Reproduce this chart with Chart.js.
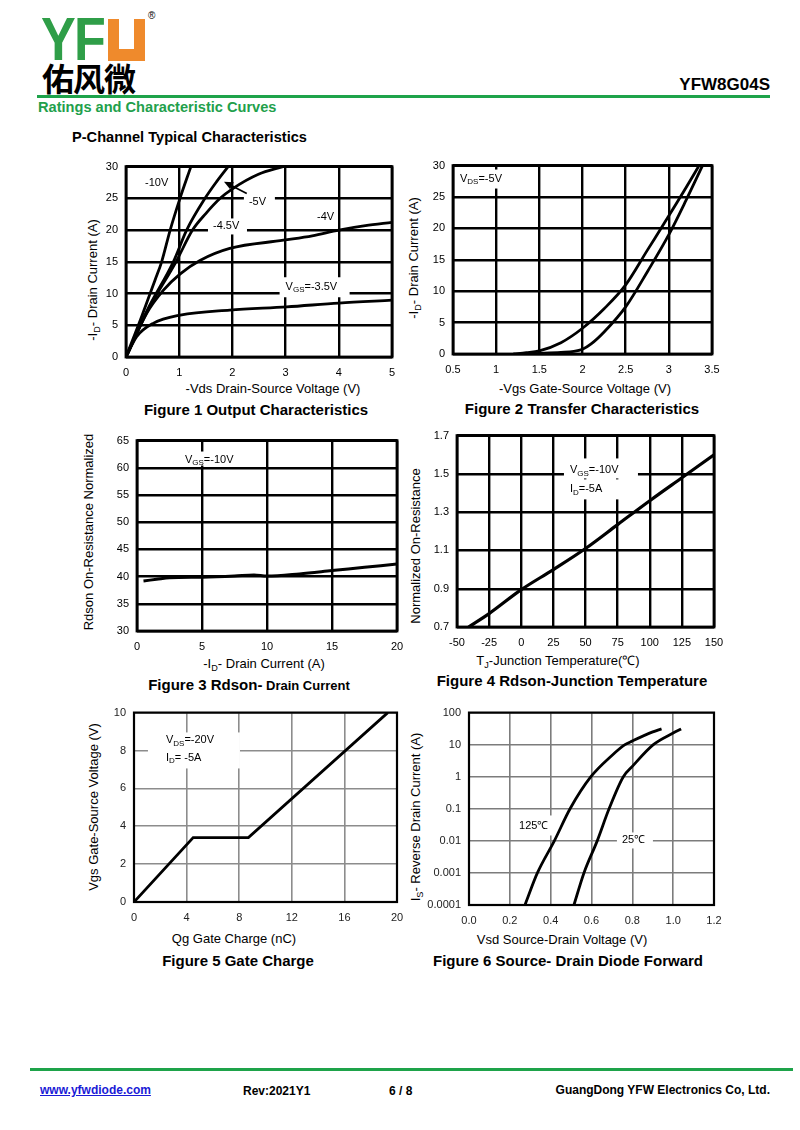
<!DOCTYPE html>
<html>
<head>
<meta charset="utf-8">
<script src="https://cdn.jsdelivr.net/npm/chart.js@4.4.1/dist/chart.umd.min.js"></script>
<style>
  body { margin: 0; background: #fff; font-family: "Liberation Sans", Arial, sans-serif; }
  #page { position: relative; width: 800px; height: 1130px; overflow: hidden; }
  .t { position: absolute; white-space: nowrap; color: #000; line-height: 1; }
  .c { transform: translate(-50%, -50%); }
  .l { transform: translateY(-50%); }
  .r { transform: translate(-100%, -50%); }
  .rot { transform: translate(-50%, -50%) rotate(-90deg); }
  .ax { font-size: 13px; }
  .cap { font-size: 15px; font-weight: bold; }
  sub { font-size: 70%; vertical-align: -3px; line-height: 0; }
  .hr { position: absolute; height: 3px; background: #1ea34a; }
  canvas { position: absolute; }
</style>
</head>
<body>
<div id="page">
  <!-- logo -->
  <div class="t" style="left:41px;top:8px;font-size:62px;font-weight:bold;color:#2f9e48;transform:scaleX(0.84);transform-origin:0 0;letter-spacing:-2px;">YF</div>
  <div style="position:absolute;left:108px;top:19px;width:37px;height:42px;background:#ef8a2c;">
    <div style="position:absolute;left:11px;top:0;width:15px;height:30px;background:#fff;"></div>
  </div>
  <div class="t" style="left:148px;top:11px;font-size:10px;">&reg;</div>
  <div class="t" style="left:42px;top:61px;font-size:32px;font-weight:bold;font-family:'Noto Sans CJK SC';letter-spacing:-1px;">佑风微</div>

  <div class="t r" style="left:770px;top:84px;font-size:17px;font-weight:bold;">YFW8G04S</div>
  <div class="hr" style="left:37px;top:95px;width:733px;"></div>
  <div class="t l" style="left:38px;top:107px;font-size:14.6px;font-weight:bold;color:#22a04b;">Ratings and Characteristic Curves</div>
  <div class="t l" style="left:72px;top:137px;font-size:14.6px;font-weight:bold;">P-Channel Typical Characteristics</div>

  <!-- axis titles and captions -->
  <div class="t c ax" style="left:273px;top:388px;">-Vds Drain-Source Voltage (V)</div>
  <div class="t rot ax" style="left:92px;top:280px;">-I<sub>D</sub>- Drain Current (A)</div>
  <div class="t c cap" style="left:256px;top:409px;">Figure 1 Output Characteristics</div>

  <div class="t c ax" style="left:585px;top:388px;">-Vgs Gate-Source Voltage (V)</div>
  <div class="t rot ax" style="left:413px;top:258px;">-I<sub>D</sub>- Drain Current (A)</div>
  <div class="t c cap" style="left:582px;top:408px;">Figure 2 Transfer Characteristics</div>

  <div class="t c ax" style="left:264px;top:663px;">-I<sub>D</sub>- Drain Current (A)</div>
  <div class="t rot ax" style="left:88px;top:532px;">Rdson On-Resistance Normalized</div>
  <div class="t c cap" style="left:249px;top:684px;">Figure 3 Rdson-<span style="font-size:13px;"> Drain Current</span></div>

  <div class="t c ax" style="left:558px;top:660px;">T<sub>J</sub>-Junction Temperature(℃)</div>
  <div class="t rot ax" style="left:415px;top:546px;">Normalized On-Resistance</div>
  <div class="t c cap" style="left:572px;top:680px;">Figure 4 Rdson-Junction Temperature</div>

  <div class="t c ax" style="left:234px;top:938px;">Qg Gate Charge (nC)</div>
  <div class="t rot ax" style="left:93px;top:807px;">Vgs Gate-Source Voltage (V)</div>
  <div class="t c cap" style="left:238px;top:960px;">Figure 5 Gate Charge</div>

  <div class="t c ax" style="left:562px;top:939px;">Vsd Source-Drain Voltage (V)</div>
  <div class="t rot ax" style="left:415px;top:817px;">I<sub>S</sub>- Reverse Drain Current (A)</div>
  <div class="t c cap" style="left:568px;top:960px;">Figure 6 Source- Drain Diode Forward</div>

  <!-- footer -->
  <div class="hr" style="left:30px;top:1068px;width:763px;"></div>
  <div class="t l" style="left:40px;top:1090px;font-size:12px;font-weight:bold;color:#1a1ad6;text-decoration:underline;">www.yfwdiode.com</div>
  <div class="t l" style="left:243px;top:1091px;font-size:12px;font-weight:bold;">Rev:2021Y1</div>
  <div class="t l" style="left:389px;top:1091px;font-size:12px;font-weight:bold;">6 / 8</div>
  <div class="t r" style="left:770px;top:1090px;font-size:12px;font-weight:bold;">GuangDong YFW Electronics Co, Ltd.</div>
</div>

<script>
const fontFamily = '"Liberation Sans", Arial, sans-serif';

// Figure 1 - output characteristics (-Vds V / -Id A)
const f1Vds10 = [0, 0.3, 0.545, 0.67, 0.83, 1.015, 1.22];
const f1Id10 = [0, 6.5, 12.1, 15, 20, 25, 30];
const f1Vds5 = [0, 0.4, 0.89, 1.14, 1.485, 1.7, 1.92];
const f1Id5 = [0, 7.4, 15, 20, 25, 27.6, 30];
const f1Vds45 = [0, 0.4, 0.94, 1.25, 1.5, 1.77, 2.0, 2.49, 2.95];
const f1Id45 = [0, 7.2, 15, 20, 22.6, 25, 26.5, 28.8, 30];
const f1Vds4 = [0, 0.39, 0.7, 1.02, 1.39, 1.95, 2.96, 3.5, 4, 4.5, 5];
const f1Id4 = [0, 6.9, 10.5, 13.1, 15.2, 17.1, 18.4, 19.1, 20, 20.7, 21.2];
const f1Vds35 = [0, 0.2, 0.51, 1.02, 1.95, 3.02, 4, 5];
const f1Id35 = [0, 3.2, 5.3, 6.6, 7.4, 7.9, 8.5, 8.95];
const f1XTicks = [0, 1, 2, 3, 4, 5];
const f1YTicks = [0, 5, 10, 15, 20, 25, 30];

// Figure 2 - transfer characteristics (-Vgs V / -Id A)
const f2VgsA = [1.2, 1.35, 1.5, 1.75, 2.0, 2.25, 2.5, 2.75, 3.0, 3.2, 3.35];
const f2IdA = [0, 0.2, 0.5, 1.8, 4.1, 7.2, 11, 16.5, 22, 26.5, 30];
const f2VgsB = [1.3, 1.5, 1.75, 1.9, 2.0, 2.1, 2.25, 2.5, 2.76, 3.0, 3.2, 3.39];
const f2IdB = [0, 0.1, 0.25, 0.4, 0.75, 1.6, 3.5, 7.5, 13.3, 19, 24.5, 30];
const f2XTicks = [0.5, 1, 1.5, 2, 2.5, 3, 3.5];
const f2YTicks = [0, 5, 10, 15, 20, 25, 30];

// Figure 3 - Rdson vs drain current
const f3Id = [0.5, 1.5, 2.5, 5, 7.5, 9, 10, 12.5, 15, 17.5, 20];
const f3Rds = [39.2, 39.5, 39.8, 39.9, 40.1, 40.3, 40.1, 40.5, 41.1, 41.7, 42.3];
const f3XTicks = [0, 5, 10, 15, 20];
const f3YTicks = [30, 35, 40, 45, 50, 55, 60, 65];

// Figure 4 - normalized Rdson vs junction temperature
const f4Tj = [-41, -25, 0, 25, 50, 75, 100, 125, 150];
const f4Rn = [0.7, 0.77, 0.895, 1.0, 1.11, 1.235, 1.36, 1.48, 1.6];
const f4XTicks = [-50, -25, 0, 25, 50, 75, 100, 125, 150];
const f4YTicks = [0.7, 0.9, 1.1, 1.3, 1.5, 1.7];
const f4YLabels = ['0.7', '0.9', '1.1', '1.3', '1.5', '1.7'];

// Figure 5 - gate charge
const f5Qg = [0, 4.5, 8.7, 19.3];
const f5Vgs = [0, 3.4, 3.4, 10];
const f5XTicks = [0, 4, 8, 12, 16, 20];
const f5YTicks = [0, 2, 4, 6, 8, 10];

// Figure 6 - body diode forward (log current)
const f6Vsd125 = [0.274, 0.335, 0.418, 0.495, 0.597, 0.7, 0.764, 0.8, 0.9, 0.943];
const f6Is125 = [0.0001, 0.001, 0.01, 0.1, 1, 4.6, 10, 13, 25, 31];
const f6Vsd25 = [0.514, 0.563, 0.628, 0.686, 0.756, 0.8, 0.903, 1.0, 1.039];
const f6Is25 = [0.0001, 0.001, 0.01, 0.1, 1, 2.1, 10, 23, 31];
const f6XTicks = [0, 0.2, 0.4, 0.6, 0.8, 1.0, 1.2];
const f6XLabels = ['0.0', '0.2', '0.4', '0.6', '0.8', '1.0', '1.2'];
const f6YTicks = [0.0001, 0.001, 0.01, 0.1, 1, 10, 100];
const f6YLabels = ['0.0001', '0.001', '0.01', '0.1', '1', '10', '100'];

const page = document.getElementById('page');

const pts = (xs, ys) => xs.map((x, i) => ({ x, y: ys[i] }));
const curve = (xs, ys, extra) => Object.assign({
  data: pts(xs, ys), showLine: true, pointRadius: 0, borderColor: '#000',
  borderWidth: 2.8, cubicInterpolationMode: 'monotone', fill: false,
}, extra);

// boxes + labels + arrow + plot frame
const decor = {
  id: 'decor',
  beforeDatasetsDraw(chart, args, o) {
    const ctx = chart.ctx;
    ctx.save();
    ctx.fillStyle = '#fff';
    (o.notes || []).forEach((n) => {
      if (!n.box) return;
      const px = chart.scales.x.getPixelForValue(n.x);
      const py = chart.scales.y.getPixelForValue(n.y);
      ctx.fillRect(px + n.box[0], py + n.box[1], n.box[2] - n.box[0], n.box[3] - n.box[1]);
    });
    ctx.restore();
  },
  afterDatasetsDraw(chart, args, o) {
    const ctx = chart.ctx;
    const a = chart.chartArea;
    ctx.save();
    ctx.fillStyle = '#000';
    ctx.textBaseline = 'middle';
    (o.notes || []).forEach((n) => {
      let px = chart.scales.x.getPixelForValue(n.x);
      const py = chart.scales.y.getPixelForValue(n.y);
      n.parts.forEach(([txt, sub]) => {
        ctx.font = (sub ? 8 : 11) + 'px ' + fontFamily;
        ctx.fillText(txt, px, sub ? py + 3 : py);
        px += ctx.measureText(txt).width;
      });
    });
    if (o.arrow) {
      const [tx, ty, hx, hy] = o.arrow;
      const x0 = chart.scales.x.getPixelForValue(tx), y0 = chart.scales.y.getPixelForValue(ty);
      const x1 = chart.scales.x.getPixelForValue(hx), y1 = chart.scales.y.getPixelForValue(hy);
      const ang = Math.atan2(y1 - y0, x1 - x0);
      ctx.strokeStyle = '#000';
      ctx.lineWidth = 1.6;
      ctx.beginPath();
      ctx.moveTo(x0, y0);
      ctx.lineTo(x1 - 6 * Math.cos(ang), y1 - 6 * Math.sin(ang));
      ctx.stroke();
      ctx.beginPath();
      ctx.moveTo(x1, y1);
      ctx.lineTo(x1 - 9 * Math.cos(ang) + 4 * Math.sin(ang), y1 - 9 * Math.sin(ang) - 4 * Math.cos(ang));
      ctx.lineTo(x1 - 9 * Math.cos(ang) - 4 * Math.sin(ang), y1 - 9 * Math.sin(ang) + 4 * Math.cos(ang));
      ctx.closePath();
      ctx.fill();
    }
    ctx.strokeStyle = '#000';
    ctx.lineWidth = o.frame || 2.5;
    ctx.strokeRect(a.left, a.top, a.right - a.left, a.bottom - a.top);
    ctx.restore();
  },
};

function axis(tickVals, labels, g, extra) {
  return Object.assign({
    type: 'linear',
    min: tickVals[0],
    max: tickVals[tickVals.length - 1],
    afterBuildTicks: (s) => { s.ticks = tickVals.map((v) => ({ value: v })); },
    ticks: {
      callback: (v, i) => (labels ? labels[i] : String(tickVals[i])),
      font: { family: fontFamily, size: 11 },
      color: g.tickColor || '#000',
      autoSkip: false,
      maxRotation: 0,
      padding: 8,
    },
    grid: { color: g.color, lineWidth: g.width, drawTicks: false },
    border: { display: false },
  }, extra);
}

// plot = [left, top, right, bottom] of the plotting area on the page
function makeChart(plot, datasets, xAxis, yAxis, decorOpts) {
  const [l, t, r, b] = plot;
  const cv = document.createElement('canvas');
  cv.width = r - l + 80;
  cv.height = b - t + 40;
  cv.style.left = (l - 60) + 'px';
  cv.style.top = (t - 14) + 'px';
  page.appendChild(cv);
  xAxis.afterFit = (s) => { s.height = 26; };
  xAxis.ticks.padding = 9;
  yAxis.afterFit = (s) => { s.width = 60; };
  new Chart(cv, {
    type: 'scatter',
    data: { datasets },
    options: {
      responsive: false,
      animation: false,
      layout: { padding: { top: 14, right: 20, left: 0, bottom: 0 } },
      scales: { x: xAxis, y: yAxis },
      plugins: { legend: { display: false }, tooltip: { enabled: false }, decor: decorOpts },
    },
    plugins: [decor],
  });
}

const blackGrid = { color: '#000', width: 2.4 };
const grayGrid5 = { color: '#8c8c8c', width: 1.6, tickColor: '#222' };
const grayGrid6 = { color: '#7c7c7c', width: 1.6, tickColor: '#222' };

// Figure 1
makeChart([126, 166, 392, 357], [
  curve(f1Vds10, f1Id10),
  curve(f1Vds5, f1Id5),
  curve(f1Vds45, f1Id45),
  curve(f1Vds4, f1Id4),
  curve(f1Vds35, f1Id35),
], axis(f1XTicks, null, blackGrid), axis(f1YTicks, null, blackGrid), {
  frame: 2.8,
  notes: [
    { x: 0.357, y: 27.47, parts: [['-10V', 0]] },
    { x: 2.31, y: 24.49, parts: [['-5V', 0]], box: [-5, -9, 26, 8] },
    { x: 1.635, y: 20.57, parts: [['-4.5V', 0]], box: [-5, -8, 34, 8] },
    { x: 3.59, y: 22.13, parts: [['-4V', 0]] },
    { x: 3.0, y: 10.99, parts: [['V', 0], ['GS', 1], ['=-3.5V', 0]], box: [-6, -10, 64, 10] },
  ],
  arrow: [2.27, 25.75, 1.842, 27.63],
});

// Figure 2
makeChart([453, 165, 712, 354], [
  curve(f2VgsA, f2IdA),
  curve(f2VgsB, f2IdB),
], axis(f2XTicks, null, blackGrid), axis(f2YTicks, null, blackGrid), {
  frame: 2.8,
  notes: [
    { x: 0.581, y: 27.94, parts: [['V', 0], ['DS', 1], ['=-5V', 0]], box: [-3, -9, 46, 10] },
  ],
});

// Figure 3
makeChart([137, 440, 397, 631], [
  curve(f3Id, f3Rds, { borderWidth: 3 }),
], axis(f3XTicks, null, blackGrid), axis(f3YTicks, null, blackGrid), {
  frame: 2.8,
  notes: [
    { x: 3.69, y: 61.52, parts: [['V', 0], ['GS', 1], ['=-10V', 0]], box: [-3, -8, 50, 6] },
  ],
});

// Figure 4
makeChart([457, 435, 714, 627], [
  curve(f4Tj, f4Rn, { borderWidth: 3.2 }),
], axis(f4XTicks, null, blackGrid), axis(f4YTicks, f4YLabels, blackGrid), {
  frame: 2.8,
  notes: [
    { x: 37.9, y: 1.518, parts: [['V', 0], ['GS', 1], ['=-10V', 0]], box: [-6, -12, 68, 8] },
    { x: 37.9, y: 1.419, parts: [['I', 0], ['D', 1], ['=-5A', 0]], box: [-6, -10, 68, 10] },
  ],
});

// Figure 5
makeChart([134, 712, 397, 902], [
  curve(f5Qg, f5Vgs, { cubicInterpolationMode: 'default', tension: 0 }),
], axis(f5XTicks, null, grayGrid5), axis(f5YTicks, null, grayGrid5), {
  frame: 2.2,
  notes: [
    { x: 2.43, y: 8.53, parts: [['V', 0], ['DS', 1], ['=-20V', 0]], box: [-18, -8, 74, 28] },
    { x: 2.43, y: 7.63, parts: [['I', 0], ['D', 1], ['= -5A', 0]] },
  ],
});

// Figure 6
makeChart([469, 712, 714, 905], [
  curve(f6Vsd125, f6Is125),
  curve(f6Vsd25, f6Is25),
], axis(f6XTicks, f6XLabels, grayGrid6), axis(f6YTicks, f6YLabels, grayGrid6, { type: 'logarithmic' }), {
  frame: 2.2,
  notes: [
    { x: 0.245, y: 0.0302, parts: [['125℃', 0]], box: [-4, -10, 37, 10] },
    { x: 0.749, y: 0.0103, parts: [['25℃', 0]], box: [-5, -8, 31, 8] },
  ],
});
</script>
</body>
</html>
